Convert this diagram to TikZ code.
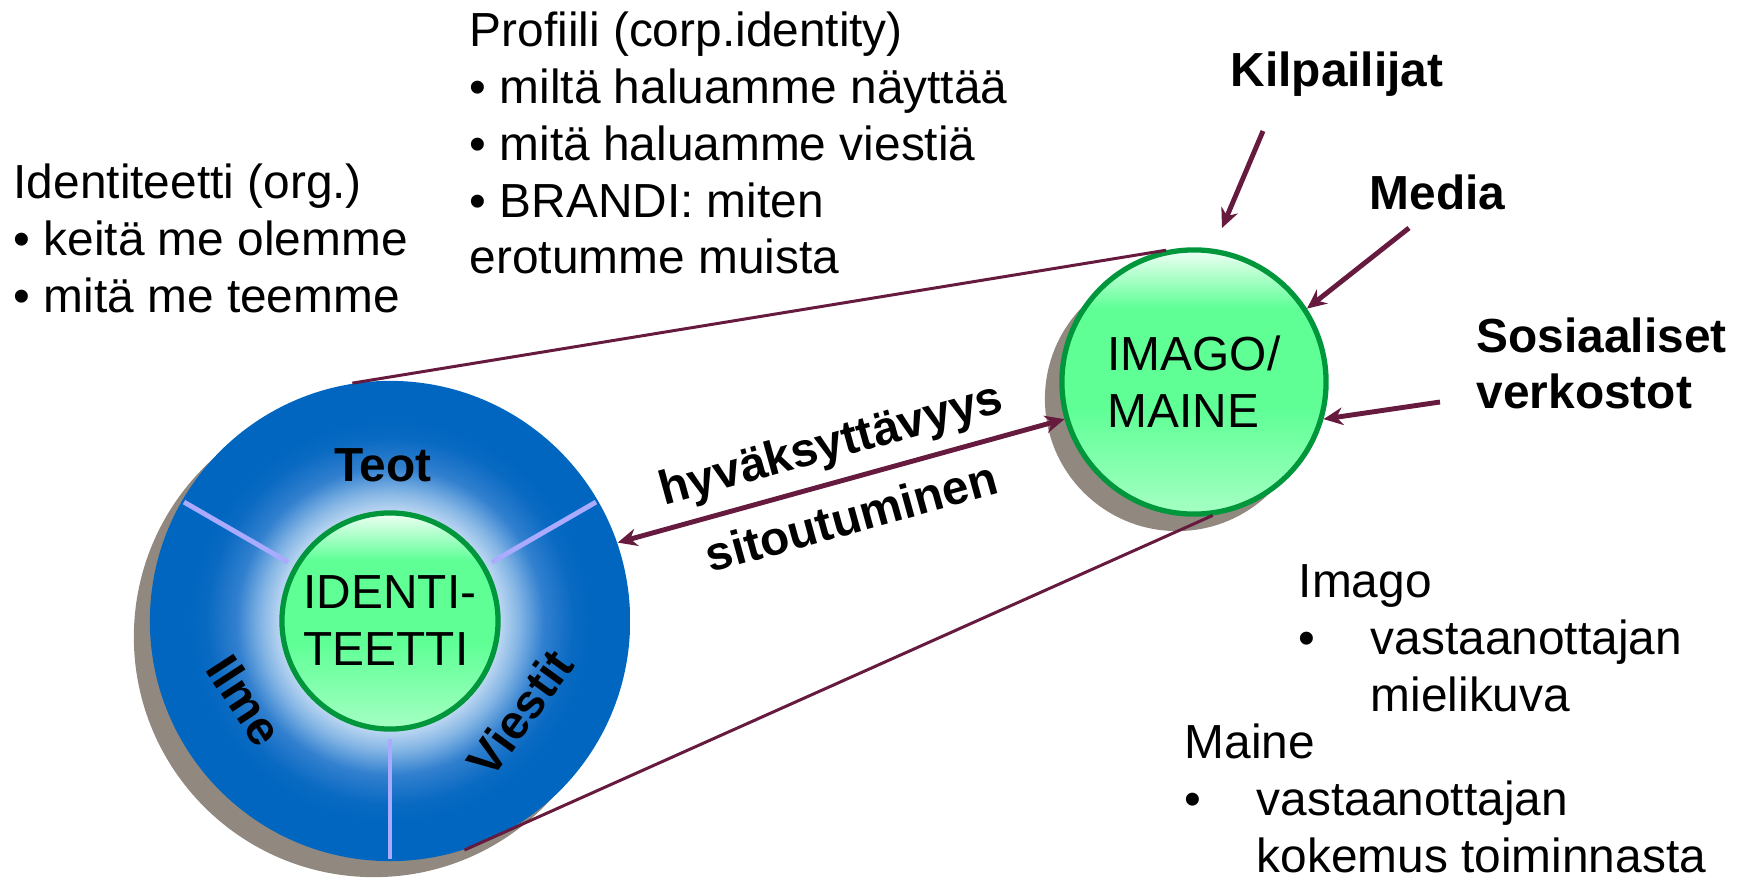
\documentclass[tikz,border=0pt]{standalone}
\usepackage{fontspec}
\setmainfont{Liberation Sans}
\usepackage{tikz}
\usetikzlibrary{positioning, arrows.meta, shadows}

\definecolor{maroon}{RGB}{102,26,62}
\definecolor{shadowgray}{RGB}{145,137,128}
\definecolor{ringgreen}{RGB}{0,150,60}
\definecolor{spokeblue}{RGB}{170,170,255}
\definecolor{deepblue}{RGB}{0,102,192}
\definecolor{blueA}{RGB}{232,240,251}
\definecolor{blueB}{RGB}{200,222,244}
\definecolor{blueC}{RGB}{130,180,228}
\definecolor{blueD}{RGB}{50,128,207}
\definecolor{blueE}{RGB}{10,106,194}
\definecolor{greenTop}{RGB}{240,255,245}
\definecolor{greenMid}{RGB}{95,255,150}
\definecolor{greenBot}{RGB}{165,255,195}

\pgfdeclareradialshading{bluedisc}{\pgfpoint{0bp}{0bp}}{color(0bp)=(blueA); color(11bp)=(blueB); color(13.5bp)=(blueC); color(16bp)=(blueD); color(19bp)=(blueE); color(21bp)=(deepblue); color(50bp)=(deepblue)}
\pgfdeclareverticalshading{greenglass}{100bp}{color(0bp)=(greenBot); color(25bp)=(greenBot); color(45bp)=(greenMid); color(64bp)=(greenMid); color(75bp)=(greenTop); color(100bp)=(greenTop)}

\begin{document}
\begin{tikzpicture}[x=0.01cm, y=-0.01cm,
    font=\fontsize{13.6}{16.2}\selectfont,
    >={Stealth[length=5.5pt, width=5pt]},
    txt/.style={inner sep=0pt, anchor=base west, align=left},
    bold/.style={txt, font=\fontsize{13.6}{16.2}\selectfont\bfseries},
    sectorlbl/.style={inner sep=0pt, font=\fontsize{13.6}{16.2}\selectfont\bfseries},
    arrowlbl/.style={inner sep=0pt, sloped, font=\fontsize{13.6}{16.2}\selectfont\bfseries},
    disc/.style={circle, inner sep=0pt, minimum size=4.8cm, shading=bluedisc,
        general shadow={fill=shadowgray, shadow xshift=-0.16cm, shadow yshift=-0.16cm}},
    core/.style={circle, inner sep=0pt, align=left, shading=greenglass, draw=ringgreen, line width=1.5pt},
    spoke/.style={draw=spokeblue, line width=1.4pt},
    link/.style={draw=maroon, line width=0.85pt},
    arrow/.style={draw=maroon, line width=1.4pt},
  ]
  \useasboundingbox (0,0) rectangle (1742,879);

  % identity disc
  \node[disc] (iddisc) at (390,621) {};
  \node[core, minimum size=2.16cm] (idcore) at (390,621) {IDENTI-\\TEETTI};
  \foreach \a in {30, 150, 270}
    \draw[spoke, shorten <=0.03cm, shorten >=0.07cm] (iddisc.\a) -- (idcore.\a);
  \node[sectorlbl] (teot) at (383,465) {Teot};
  \node[sectorlbl, rotate=-57] (ilme) at (245,700) {Ilme};
  \node[sectorlbl, rotate=54] (viestit) at (520,713) {Viestit};

  % image / reputation
  \node[core, minimum size=2.64cm,
    general shadow={fill=shadowgray, shadow xshift=-0.17cm, shadow yshift=-0.17cm}] (imago) at (1194,382) {IMAGO/\\MAINE};

  % texts (base = last line)
  \node[txt] (identtxt) at (13,312) {Identiteetti (org.)\\• keitä me olemme\\• mitä me teemme};
  \node[txt] (profiili) at (469,274) {Profiili (corp.identity)\\• miltä haluamme näyttää\\• mitä haluamme viestiä\\• BRANDI: miten\\erotumme muista};
  \node[bold] (kilp) at (1230,87) {Kilpailijat};
  \node[bold] (media) at (1369,210) {Media};
  \node[bold] (somet) at (1476,409) {Sosiaaliset\\verkostot};
  \node[txt] (imagotxt) at (1298,711) {Imago\\\makebox[0.72cm][l]{•}vastaanottajan\\\hspace*{0.72cm}mielikuva};
  \node[txt] (mainetxt) at (1184,872) {Maine\\\makebox[0.72cm][l]{•}vastaanottajan\\\hspace*{0.72cm}kokemus toiminnasta};

  % connectors
  \draw[link] (iddisc.99.5) -- (imago.102.5);
  \draw[link] (iddisc.288) -- (imago.278);
  \draw[arrow, <->] (iddisc.19.5) --
    node[arrowlbl, above=3pt] {hyväksyttävyys}
    node[arrowlbl, below=4.8pt] {sitoutuminen} (imago.196.3);

  \coordinate (kilpfrom) at (1263,131);
  \coordinate (kilpto) at (1222,228);
  \coordinate (mediafrom) at (1409,228);
  \coordinate (somefrom) at (1440,402);
  \draw[arrow, ->] (kilpfrom) -- (kilpto);
  \draw[arrow, ->] (mediafrom) -- (imago.33.4);
  \draw[arrow, ->] (somefrom) -- (imago.-16);
\end{tikzpicture}
\end{document}
